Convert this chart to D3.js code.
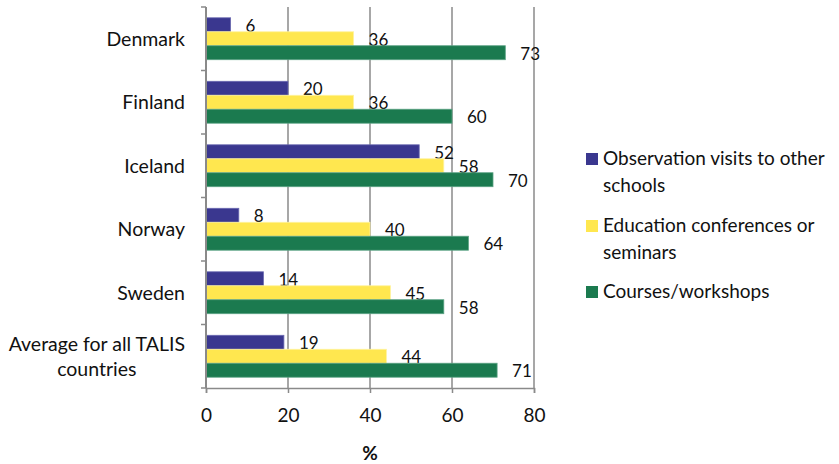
<!DOCTYPE html>
<html>
<head>
<meta charset="utf-8">
<script src="https://cdn.jsdelivr.net/npm/d3@7/dist/d3.min.js"></script>
<style>
  html, body { margin: 0; padding: 0; background: #ffffff; }
  svg { display: block; font-family: Lato, "Open Sans", sans-serif; }
</style>
</head>
<body>
<svg id="chart" width="839" height="464"></svg>
<script>
// Participation in professional development activities (%), Nordic countries vs. TALIS average
const categories = ["Denmark", "Finland", "Iceland", "Norway", "Sweden", "Average for all TALIS|countries"];
const seriesNames = ["Observation visits to other|schools", "Education conferences or|seminars", "Courses/workshops"];
const observationVisits = [6, 20, 52, 8, 14, 19];
const conferences = [36, 36, 58, 40, 45, 44];
const courses = [73, 60, 70, 64, 58, 71];
const xTicks = [0, 20, 40, 60, 80];
const seriesColors = ["#3a378f", "#ffe74f", "#1b7a4f"];
const seriesStrokes = ["#6a68b0", "#fff3a0", "#5aa283"];

const seriesValues = [observationVisits, conferences, courses];

const svg = d3.select("#chart");
const plot = { left: 206, right: 534, top: 7, bottom: 388 };

const x = d3.scaleLinear().domain([0, 80]).range([plot.left, plot.right]);
const y = d3.scaleBand().domain(categories).range([plot.top, plot.bottom]).paddingInner(0).paddingOuter(0);
const bandH = y.bandwidth();
const inner = d3.scaleBand().domain(d3.range(3))
  .range([bandH * 0.17, bandH * 0.83]).paddingInner(0).paddingOuter(0);

// vertical gridlines
svg.append("g").selectAll("line").data(xTicks.slice(1)).join("line")
  .attr("x1", d => x(d)).attr("x2", d => x(d))
  .attr("y1", plot.top).attr("y2", plot.bottom)
  .attr("stroke", "#8a8a8a").attr("stroke-width", 1.5);

// bars
const groups = svg.append("g").selectAll("g").data(categories).join("g")
  .attr("transform", d => `translate(0,${y(d)})`);

groups.each(function (cat, ci) {
  const g = d3.select(this);
  seriesValues.forEach((vals, si) => {
    const v = vals[ci];
    g.append("rect")
      .attr("x", x(0))
      .attr("y", inner(si))
      .attr("width", x(v) - x(0))
      .attr("height", inner.bandwidth())
      .attr("fill", seriesColors[si])
      .attr("stroke", seriesStrokes[si])
      .attr("stroke-width", 0.8);
    g.append("text")
      .attr("x", x(v) + 15)
      .attr("y", inner(si) + inner.bandwidth() / 2 + 1)
      .attr("dy", "0.35em")
      .attr("font-size", 17)
      .attr("fill", "#111")
      .text(v);
  });
});

// x axis
const xAxis = d3.axisBottom(x).tickValues(xTicks).tickSize(5).tickPadding(16).tickFormat(d3.format("d"));
const xg = svg.append("g").attr("transform", `translate(0,${plot.bottom})`).call(xAxis);
xg.select(".domain").attr("stroke", "#8a8a8a").attr("stroke-width", 1.5);
xg.selectAll(".tick line").attr("stroke", "#8a8a8a").attr("stroke-width", 1.5);
xg.selectAll(".tick text").attr("font-size", 19).attr("fill", "#111").attr("font-family", "Lato, sans-serif");

// y axis line and category ticks
const yTickPos = categories.map(c => y(c)).concat([plot.bottom]);
svg.append("line")
  .attr("x1", plot.left).attr("x2", plot.left)
  .attr("y1", plot.top).attr("y2", plot.bottom)
  .attr("stroke", "#8a8a8a").attr("stroke-width", 2);
svg.append("g").selectAll("line").data(yTickPos).join("line")
  .attr("x1", plot.left - 5).attr("x2", plot.left)
  .attr("y1", d => d).attr("y2", d => d)
  .attr("stroke", "#8a8a8a").attr("stroke-width", 1.5);

// category labels (multi-line labels are centred as a block, right-aligned to the axis)
const labelRight = 185;
const lineH = 25;
categories.forEach(cat => {
  const lines = cat.split("|");
  const cy = y(cat) + bandH / 2;
  const t = svg.append("text")
    .attr("font-size", 19.5).attr("fill", "#111");
  lines.forEach((ln, i) => {
    t.append("tspan").text(ln)
      .attr("y", cy + (i - (lines.length - 1) / 2) * lineH)
      .attr("dy", "0.35em");
  });
  if (lines.length === 1) {
    t.attr("text-anchor", "end").selectAll("tspan").attr("x", labelRight);
  } else {
    const widths = [];
    t.selectAll("tspan").each(function () { widths.push(this.getComputedTextLength()); });
    const cx = labelRight - d3.max(widths) / 2;
    t.attr("text-anchor", "middle").selectAll("tspan").attr("x", cx);
  }
});

// axis title
svg.append("text")
  .attr("x", (plot.left + plot.right) / 2 - 0)
  .attr("y", 453).attr("dy", "0.35em")
  .attr("text-anchor", "middle")
  .attr("font-size", 19).attr("font-weight", "bold").attr("fill", "#111")
  .text("%");

// legend
const legend = svg.append("g");
const legendTop = [165, 232, 298];
seriesNames.forEach((name, i) => {
  legend.append("rect")
    .attr("x", 586).attr("y", legendTop[i] - 12)
    .attr("width", 12).attr("height", 12)
    .attr("fill", seriesColors[i]);
  const t = legend.append("text").attr("font-size", 19).attr("fill", "#111");
  name.split("|").forEach((ln, j) => {
    t.append("tspan").attr("x", 603).attr("y", legendTop[i] + j * 27).text(ln);
  });
});
</script>
</body>
</html>
